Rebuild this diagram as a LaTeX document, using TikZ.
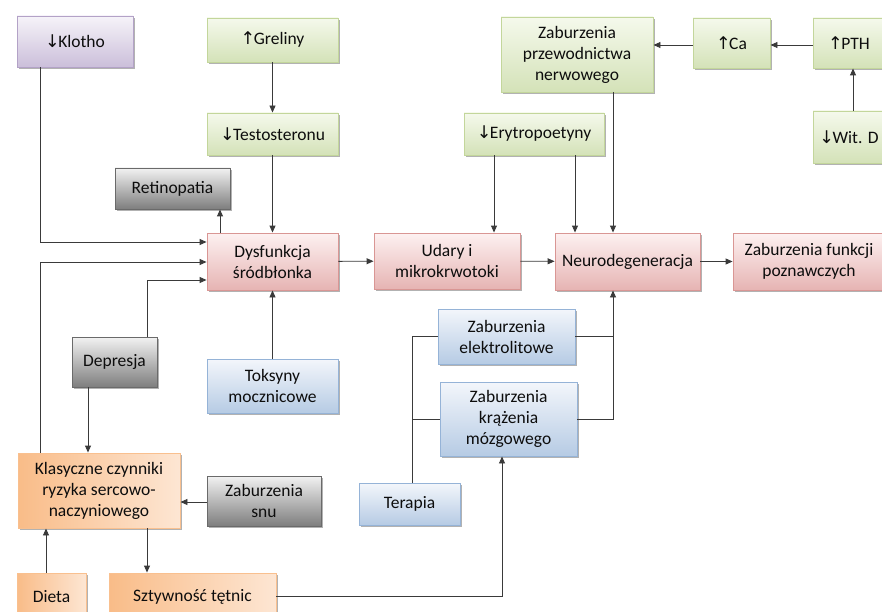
\documentclass[tikz,border=0pt]{standalone}
\usepackage{fontspec}
\setmainfont{Carlito}
\newfontfamily\arrowfont{DejaVu Sans}
\usetikzlibrary{arrows.meta,shadows}
\definecolor{txtcol}{HTML}{0D0D0D}
\definecolor{linecol}{HTML}{3A3A3A}
\definecolor{pinkT}{HTML}{FDF1F1}
\definecolor{pinkB}{HTML}{E6B4B3}
\definecolor{pinkD}{HTML}{D99694}
\definecolor{greenT}{HTML}{F5F9EC}
\definecolor{greenB}{HTML}{D4E2B8}
\definecolor{greenD}{HTML}{C3D69B}
\definecolor{purpT}{HTML}{F6F3F9}
\definecolor{purpB}{HTML}{CBBFDA}
\definecolor{purpD}{HTML}{B3A2C7}
\definecolor{blueT}{HTML}{F3F6FB}
\definecolor{blueB}{HTML}{B6CBE4}
\definecolor{blueD}{HTML}{95B3D7}
\definecolor{grayT}{HTML}{F2F2F2}
\definecolor{grayB}{HTML}{7E7E7E}
\definecolor{grayD}{HTML}{6A6A6A}
\definecolor{orangeA}{HTML}{F9BC88}
\definecolor{orangeB}{HTML}{FDE6D3}
\definecolor{orangeD}{HTML}{F9C08F}
\newcommand{\uparr}{{\arrowfont ↑}\kern-1.5pt}
\newcommand{\dnarr}{{\arrowfont ↓}\kern-1.5pt}
\tikzset{
  box/.style={line width=0.9pt, align=center, text=txtcol,
    font=\fontsize{17.5}{21}\selectfont, inner sep=2pt,
    drop shadow={shadow xshift=1.5pt,shadow yshift=-1.8pt,opacity=0.3,fill=black}},
  pinkbox/.style={box, draw=pinkD, top color=pinkT, bottom color=pinkB},
  greenbox/.style={box, draw=greenD, top color=greenT, bottom color=greenB},
  purpbox/.style={box, draw=purpD, top color=purpT, bottom color=purpB},
  bluebox/.style={box, draw=blueD, top color=blueT, bottom color=blueB},
  graybox/.style={box, draw=grayD, top color=grayT, bottom color=grayB},
  orangebox/.style={box, draw=orangeD, left color=orangeA, right color=orangeB},
  conn/.style={draw=linecol, line width=0.9pt},
  arr/.style={conn, -{Triangle[length=7pt,width=6pt]}},
}
\begin{document}
\begin{tikzpicture}[x=1pt,y=-1pt]
\useasboundingbox (0,0) rectangle (882,612);
\clip (0,0) rectangle (882,612);
\fill[white] (0,0) rectangle (882,612);

% nodes
\node[purpbox, minimum width=116pt, minimum height=51pt] (klotho) at (75,41.5) {\dnarr Klotho};
\node[greenbox, minimum width=131pt, minimum height=44pt] (greliny) at (272.5,40) {\uparr Greliny};
\node[greenbox, minimum width=131pt, minimum height=42pt] (testo) at (272.5,134) {\dnarr Testosteronu};
\node[graybox, minimum width=115pt, minimum height=41pt] (retino) at (172.5,188.5) {Retinopatia};
\node[pinkbox, minimum width=131pt, minimum height=57pt] (dysf) at (272.5,261.5) {Dysfunkcja\\śródbłonka};
\node[pinkbox, minimum width=146pt, minimum height=56pt] (udary) at (447,261) {Udary i\\mikrokrwotoki};
\node[pinkbox, minimum width=145pt, minimum height=57pt] (neuro) at (627.5,261.5) {Neurodegeneracja};
\node[pinkbox, minimum width=152pt, minimum height=57pt] (funkcji) at (809,261.5) {Zaburzenia funkcji\\poznawczych};
\node[greenbox, minimum width=152pt, minimum height=75pt] (przew) at (577,54.5) {Zaburzenia\\przewodnictwa\\nerwowego};
\node[greenbox, minimum width=140pt, minimum height=42pt] (eryt) at (534,134) {\dnarr Erytropoetyny};
\node[greenbox, minimum width=77pt, minimum height=50pt] (ca) at (731.5,43) {\uparr Ca};
\node[greenbox, minimum width=72pt, minimum height=50pt] (pth) at (849,43) {\uparr PTH};
\node[greenbox, minimum width=72pt, minimum height=52pt] (witd) at (849,137) {\dnarr Wit. D};
\node[bluebox, minimum width=137pt, minimum height=55pt] (elektro) at (506.5,336.5) {Zaburzenia\\elektrolitowe};
\node[bluebox, minimum width=137pt, minimum height=74pt] (krazenia) at (508.5,419) {Zaburzenia\\krążenia\\mózgowego};
\node[bluebox, minimum width=101pt, minimum height=42pt] (terapia) at (409.5,504) {Terapia};
\node[bluebox, minimum width=131pt, minimum height=54pt] (toksyny) at (272.5,386) {Toksyny\\mocznicowe};
\node[graybox, minimum width=85pt, minimum height=50pt] (depresja) at (114.5,362) {Depresja};
\node[orangebox, minimum width=162pt, minimum height=75pt] (klas) at (99,490.5) {Klasyczne czynniki\\ryzyka sercowo-\\naczyniowego};
\node[graybox, minimum width=114pt, minimum height=50pt] (snu) at (264,501) {Zaburzenia\\snu};
\node[orangebox, minimum width=69pt, minimum height=47pt] (dieta) at (51.5,596.5) {Dieta};
\node[orangebox, minimum width=167pt, minimum height=47pt] (sztyw) at (192.5,596.5) {Sztywność tętnic};

% helper coordinates
\coordinate (k1) at (40,242);
\coordinate (k2) at (40,262);
\coordinate (k3) at (147,280);
\coordinate (k4) at (88,0);
\coordinate (k5) at (220,0);
\coordinate (k6) at (494,0);
\coordinate (k7) at (0,45);
\coordinate (k8) at (613,0);
\coordinate (k9) at (412,0);
\coordinate (k10) at (502,0);
\coordinate (k11) at (0,502);
\coordinate (k12) at (147,0);
\coordinate (k13) at (46,0);
\coordinate (k14) at (575,0);
\coordinate (k15) at (853,0);

% connectors
\draw[arr] (klotho.south -| k1) |- (dysf.west |- k1);
\draw[arr] (klas.north -| k2) |- (dysf.west |- k2);
\draw[arr] (depresja.north -| k3) |- (dysf.west |- k3);
\draw[arr] (depresja.south -| k4) -- (klas.north -| k4);
\draw[arr] (greliny) -- (testo);
\draw[arr] (testo) -- (dysf);
\draw[arr] (dysf.north -| k5) -- (retino.south -| k5);
\draw[arr] (toksyny) -- (dysf);
\draw[arr] (dysf) -- (udary);
\draw[arr] (udary) -- (neuro);
\draw[arr] (neuro) -- (funkcji);
\draw[arr] (eryt.south -| k6) -- (udary.north -| k6);
\draw[arr] (eryt.south -| k14) -- (neuro.north -| k14);
\draw[arr] (przew.south -| k8) -- (neuro.north -| k8);
\draw[arr] (ca.west |- k7) -- (przew.east |- k7);
\draw[arr] (pth.west |- k7) -- (ca.east |- k7);
\draw[arr] (witd.north -| k15) -- (pth.south -| k15);
\draw[conn] (elektro.east) -- (elektro.east -| k8);
\draw[arr] (krazenia.east) -| (neuro.south -| k8);
\draw[conn] (terapia.north -| k9) |- (elektro.west);
\draw[conn] (krazenia.west -| k9) -- (krazenia.west);
\draw[arr] (sztyw.east) -| (krazenia.south -| k10);
\draw[arr] (snu.west |- k11) -- (klas.east |- k11);
\draw[arr] (klas.south -| k12) -- (sztyw.north -| k12);
\draw[arr] (dieta.north -| k13) -- (klas.south -| k13);
\end{tikzpicture}
\end{document}
